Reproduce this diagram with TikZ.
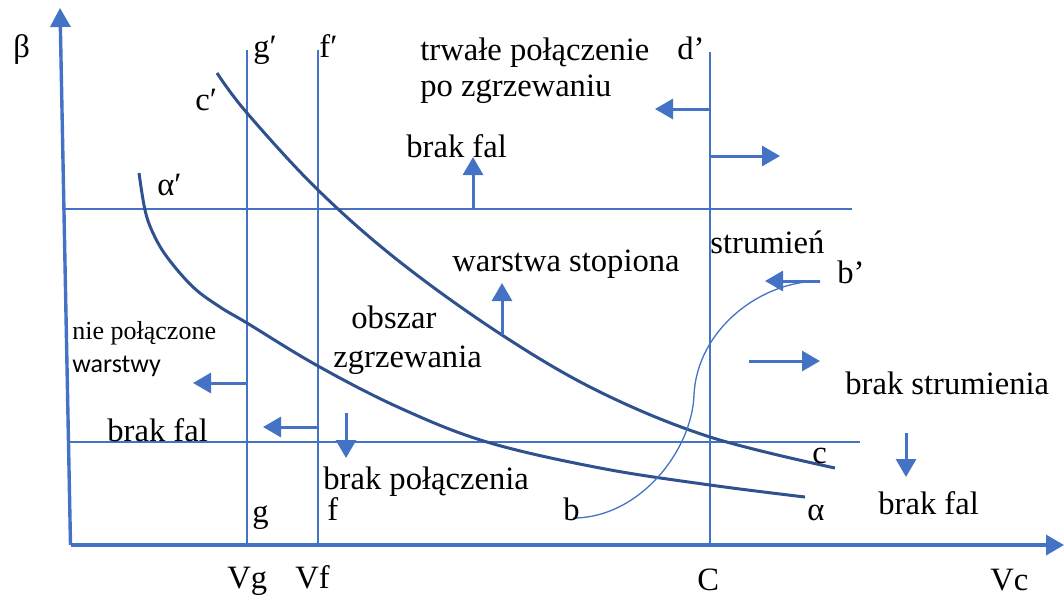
\documentclass[tikz,border=0pt]{standalone}
\usepackage{fontspec}
\setmainfont{Liberation Serif}
\newfontfamily\carl{Carlito}
\usetikzlibrary{arrows.meta}
\definecolor{lb}{HTML}{4472C4}
\definecolor{db}{HTML}{2F528F}
\begin{document}
\begin{tikzpicture}[x=0.5pt,y=-0.5pt,
  thinln/.style={draw=lb,line width=0.65pt},
  axisln/.style={draw=lb,line width=1.7pt},
  curveln/.style={draw=db,line width=1.5pt},
  arr/.style={draw=lb,fill=lb,line width=1.5pt,-{Triangle[length=9pt,width=10pt]}},
  lbl/.style={anchor=base west,inner sep=0pt,font=\fontsize{16.3}{19}\selectfont},
  slbl/.style={anchor=base west,inner sep=0pt,font=\fontsize{13}{15}\selectfont}]
\useasboundingbox (0,0) rectangle (1064,596);
% axes
\coordinate (O) at (70.5,545);
\coordinate (Ytip) at (60,8);
\coordinate (Xtip) at (1064,545);
\draw[axisln,-{Triangle[length=9.5pt,width=10pt]}] (O) -- (Ytip);
\draw[axisln,-{Triangle[length=9pt,width=10pt]}] (O) -- (Xtip);
% horizontal lines
\draw[thinln] (62,209) -- (852,209);
\draw[thinln] (70,442) -- (860,442);
% vertical lines
\draw[thinln] (247,50) -- (247,545);
\draw[thinln] (318,50) -- (318,545);
\draw[thinln] (710,52) -- (710,545);
% curves
\draw[curveln] plot[smooth,tension=0.6] coordinates {(217,73) (247,113) (318,190) (400,262) (502,335) (600,392) (710,437) (835,468)};
\draw[curveln] plot[smooth,tension=0.6] coordinates {(139,173) (145,210) (153,233) (167,257) (193,287) (220,307) (247,323) (318,366) (400,408) (487,442) (600,468) (710,485) (805,497)};
\draw[thinln] (573,518) .. controls (640,518) and (692,450) .. (694,395) .. controls (697,330) and (760,281) .. (820,281);
% arrows
\draw[arr] (473,209) -- (473,157);
\draw[arr] (710,109) -- (655,109);
\draw[arr] (710,156) -- (780,156);
\draw[arr] (502,335) -- (502,283);
\draw[arr] (247,383) -- (193,383);
\draw[arr] (318,427) -- (263,427);
\draw[arr] (346,413) -- (346,458);
\draw[arr] (820,281) -- (765,281);
\draw[arr] (749,361) -- (820,361);
\draw[arr] (906,433) -- (906,477);
% labels
\node[lbl] (beta) at (13,57) {β};
\node[lbl] (gp) at (253,57) {g′};
\node[lbl] (fp) at (319,57) {f′};
\node[lbl] (dp) at (677,59) {d’};
\node[lbl] (cp) at (195,110) {c′};
\node[lbl] (ap) at (157,195) {α′};
\node[lbl] (t1) at (420,60) {trwałe połączenie};
\node[lbl] (t2) at (420,96) {po zgrzewaniu};
\node[lbl] (bf1) at (406,157) {brak fal};
\node[lbl] (ws) at (452,271) {warstwa stopiona};
\node[lbl] (ob) at (351,328) {obszar};
\node[lbl] (zg) at (333,367) {zgrzewania};
\node[lbl] (bp) at (323,489) {brak połączenia};
\node[lbl] (st) at (710,253) {strumień};
\node[lbl] (bq) at (837,283) {b’};
\node[lbl] (bs) at (845,394) {brak strumienia};
\node[lbl] (cl) at (812,463) {c};
\node[lbl] (al) at (807,520) {α};
\node[lbl] (bf3) at (878,514) {brak fal};
\node[slbl] (np) at (72,339) {nie połączone};
\node[slbl,font=\carl\fontsize{13}{15}\selectfont] (wa) at (72,372) {warstwy};
\node[lbl] (bf2) at (107,441) {brak fal};
\node[lbl] (gl) at (252,522) {g};
\node[lbl] (fl) at (327,520) {f};
\node[lbl] (bl) at (563,520) {b};
\node[lbl] (vg) at (227,588) {Vg};
\node[lbl] (vf) at (295,588) {Vf};
\node[lbl] (cc) at (697,590) {C};
\node[lbl] (vc) at (990,590) {Vc};
\end{tikzpicture}
\end{document}
